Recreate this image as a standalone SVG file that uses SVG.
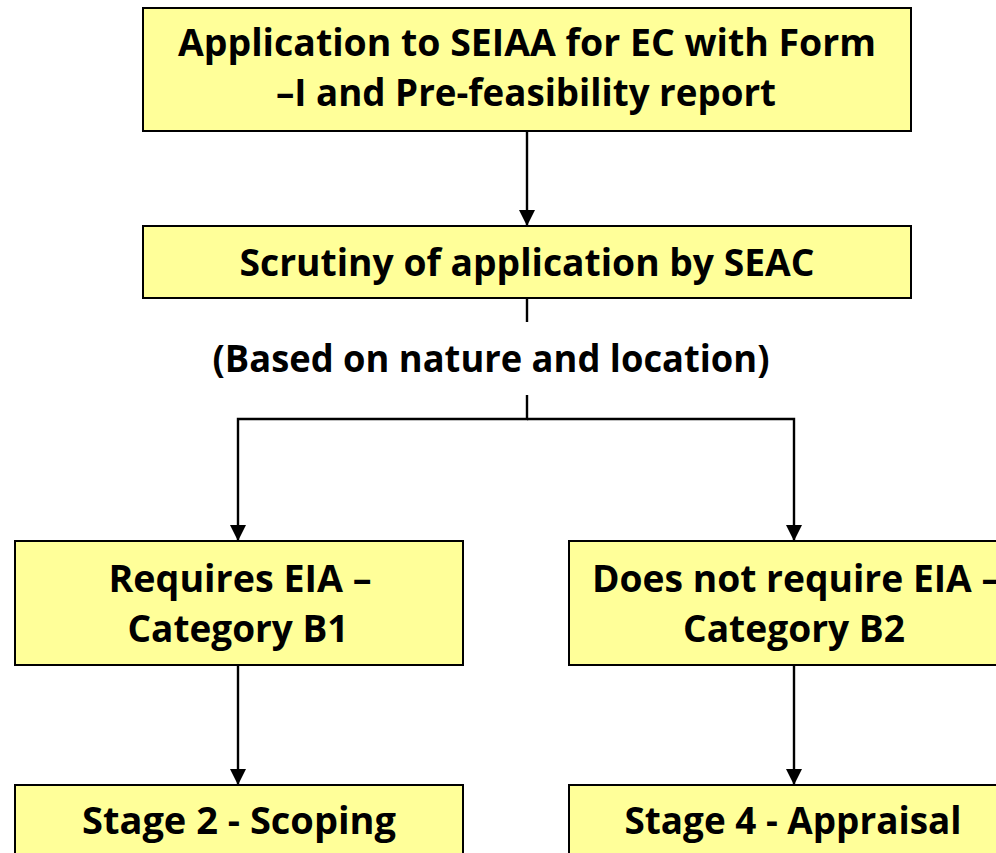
<svg xmlns="http://www.w3.org/2000/svg" width="996" height="853" viewBox="0 0 996 853">
<defs>
<style>
.box{fill:#FFFF99;stroke:#000;stroke-width:2}
.t{font-family:"Open Sans","Lato","DejaVu Sans",sans-serif;font-weight:bold;font-size:38px;fill:#000;text-anchor:middle}
.c{fill:none;stroke:#000;stroke-width:2.4}
</style>
<marker id="ah" viewBox="0 0 16 16" refX="16" refY="8" markerWidth="16" markerHeight="16" markerUnits="userSpaceOnUse" orient="auto">
<path d="M0,0 L16,8 L0,16 Z" fill="#000"/>
</marker>
</defs>
<rect width="996" height="853" fill="#fff"/>
<g id="connectors">
<line class="c" x1="527" y1="131" x2="527" y2="226" marker-end="url(#ah)"/>
<line class="c" x1="527" y1="298" x2="527" y2="322"/>
<polyline class="c" points="527,395 527,419 238,419 238,541" marker-end="url(#ah)"/>
<polyline class="c" points="527,419 794,419 794,541" marker-end="url(#ah)"/>
<line class="c" x1="238" y1="665" x2="238" y2="785" marker-end="url(#ah)"/>
<line class="c" x1="794" y1="665" x2="794" y2="785" marker-end="url(#ah)"/>
</g>
<g id="n1">
<rect class="box" x="143" y="8" width="768" height="123"/>
<text class="t" x="527" y="56" textLength="698" lengthAdjust="spacingAndGlyphs">Application to SEIAA for EC with Form</text>
<text class="t" x="526" y="106" textLength="500" lengthAdjust="spacingAndGlyphs">–I and Pre-feasibility report</text>
</g>
<g id="n2">
<rect class="box" x="143" y="226" width="768" height="72"/>
<text class="t" x="527" y="276" textLength="575" lengthAdjust="spacingAndGlyphs">Scrutiny of application by SEAC</text>
</g>
<g id="label">
<text class="t" x="491" y="372" textLength="557" lengthAdjust="spacingAndGlyphs">(Based on nature and location)</text>
</g>
<g id="n3">
<rect class="box" x="15" y="541" width="448" height="124"/>
<text class="t" x="240" y="592" textLength="263" lengthAdjust="spacingAndGlyphs">Requires EIA –</text>
<text class="t" x="238" y="642" textLength="221" lengthAdjust="spacingAndGlyphs">Category B1</text>
</g>
<g id="n4">
<rect class="box" x="569" y="541" width="450" height="124"/>
<text class="t" x="796" y="592" textLength="408" lengthAdjust="spacingAndGlyphs">Does not require EIA –</text>
<text class="t" x="794" y="642" textLength="222" lengthAdjust="spacingAndGlyphs">Category B2</text>
</g>
<g id="n5">
<rect class="box" x="15" y="785" width="448" height="90"/>
<text class="t" x="239" y="834" textLength="314" lengthAdjust="spacingAndGlyphs">Stage 2 - Scoping</text>
</g>
<g id="n6">
<rect class="box" x="569" y="785" width="450" height="90"/>
<text class="t" x="793" y="834" textLength="337" lengthAdjust="spacingAndGlyphs">Stage 4 - Appraisal</text>
</g>
</svg>
